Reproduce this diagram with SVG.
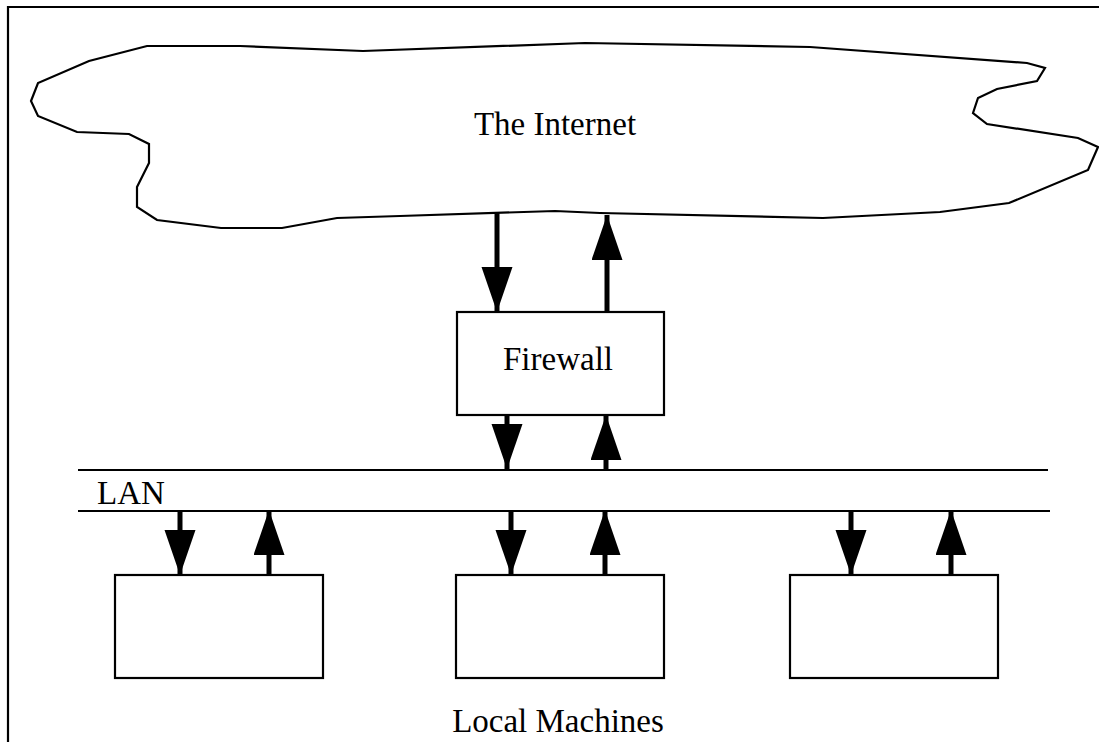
<svg xmlns="http://www.w3.org/2000/svg" width="1099" height="742" viewBox="0 0 1099 742">
  <style>
    .ln { fill: none; stroke: #000; stroke-width: 2.2; }
    .box { fill: #fff; stroke: #000; stroke-width: 2.2; }
    .shaft { stroke: #000; stroke-width: 5; fill: none; }
    .txt { font-family: "Liberation Serif", "Times New Roman", serif; font-size: 33px; fill: #000; }
  </style>
  <defs>
    <marker id="ah" markerUnits="userSpaceOnUse" markerWidth="46" markerHeight="32" refX="45" refY="15.5" orient="auto">
      <polygon points="0,0 45,15.5 0,31" fill="#000"/>
    </marker>
  </defs>
  <rect width="1099" height="742" fill="#fff"/>
  <g id="frame">
    <polyline class="ln" points="8,742 8,7 1099,7" stroke-width="2.5"/>
  </g>
  <g id="internet">
    <polygon class="ln" points="147,46 240,46 363,51 585,43 810,47 1027,63 1045,68 1037,81 997,89 978,98 973,113 987,124 1078,138 1098,147 1088,170 1009,203 940,212 823,218 600,213 555,211 400,216 337,218 282,228 221,228 157,220 137,207 137,187 149,163 149,144 129,134 77,132 38,116 31,101 38,83 89,61"/>
    <text class="txt" x="555" y="135" text-anchor="middle">The Internet</text>
  </g>
  <g id="firewall">
    <rect class="box" x="457" y="312" width="207" height="103"/>
    <text class="txt" x="558" y="370" text-anchor="middle">Firewall</text>
  </g>
  <g id="lan">
    <line class="ln" x1="78" y1="470" x2="1048" y2="470"/>
    <line class="ln" x1="78" y1="511" x2="1050" y2="511"/>
    <text class="txt" x="97" y="504" font-size="32">LAN</text>
  </g>
  <g id="machine1">
    <rect class="box" x="115" y="575" width="208" height="103"/>
  </g>
  <g id="machine2">
    <rect class="box" x="456" y="575" width="208" height="103"/>
  </g>
  <g id="machine3">
    <rect class="box" x="790" y="575" width="208" height="103"/>
  </g>
  <g id="label-local">
    <text class="txt" x="558" y="732" text-anchor="middle" font-size="32">Local Machines</text>
  </g>
  <g id="connectors">
    <line class="shaft" x1="497" y1="213" x2="497" y2="312" marker-end="url(#ah)"/>
    <line class="shaft" x1="607" y1="312" x2="607" y2="215" marker-end="url(#ah)"/>
    <line class="shaft" x1="507" y1="415" x2="507" y2="469" marker-end="url(#ah)"/>
    <line class="shaft" x1="606" y1="471" x2="606" y2="415" marker-end="url(#ah)"/>
    <line class="shaft" x1="180" y1="511" x2="180" y2="575" marker-end="url(#ah)"/>
    <line class="shaft" x1="269" y1="575" x2="269" y2="510" marker-end="url(#ah)"/>
    <line class="shaft" x1="511" y1="511" x2="511" y2="575" marker-end="url(#ah)"/>
    <line class="shaft" x1="605" y1="575" x2="605" y2="510" marker-end="url(#ah)"/>
    <line class="shaft" x1="851" y1="511" x2="851" y2="575" marker-end="url(#ah)"/>
    <line class="shaft" x1="951" y1="575" x2="951" y2="510" marker-end="url(#ah)"/>
  </g>
</svg>
